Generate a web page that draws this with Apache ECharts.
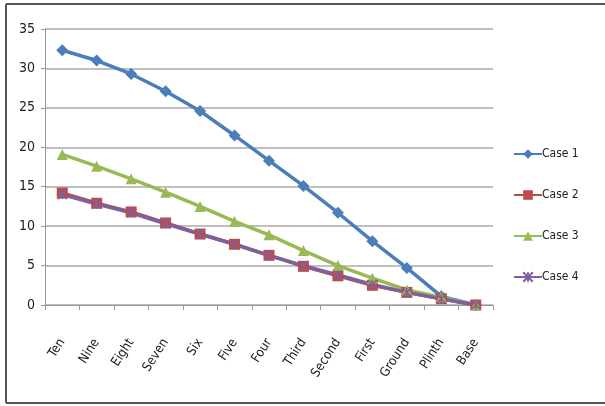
<!DOCTYPE html>
<html>
<head>
<meta charset="utf-8">
<script src="https://cdn.jsdelivr.net/npm/echarts@6/dist/echarts.min.js"></script>
<style>
  html, body { margin: 0; padding: 0; background: #fff; }
  #chart { width: 605px; height: 406px; }
</style>
</head>
<body>
<div id="chart"></div>
<script>
// Floor levels, top to bottom
const floors = ['Ten', 'Nine', 'Eight', 'Seven', 'Six', 'Five', 'Four', 'Third', 'Second', 'First', 'Ground', 'Plinth', 'Base'];

// Values per load case
const case1 = [32.3, 31.0, 29.3, 27.1, 24.6, 21.5, 18.3, 15.1, 11.7, 8.1, 4.7, 1.1, 0];
const case2 = [14.2, 12.9, 11.8, 10.4, 9.0, 7.7, 6.3, 4.9, 3.7, 2.5, 1.6, 0.8, 0];
const case3 = [19.1, 17.6, 16.0, 14.3, 12.5, 10.6, 8.9, 6.9, 5.0, 3.4, 1.9, 1.0, 0];
const case4 = [14.0, 12.8, 11.7, 10.3, 9.0, 7.7, 6.3, 5.0, 3.8, 2.6, 1.6, 0.8, 0];

const yTicks = [0, 5, 10, 15, 20, 25, 30, 35];

const font = '"DejaVu Sans Condensed", "Liberation Sans", Arial, sans-serif';
const crossPath = 'path://M0,0L10,10M10,0L0,10M5,0L5,10';

function mkSeries(name, data, color, symbol, size, extra) {
  return Object.assign({
    name: name,
    type: 'line',
    data: data,
    symbol: symbol,
    symbolSize: size,
    lineStyle: { color: color, width: 3.5 },
    itemStyle: { color: color },
    emphasis: { disabled: true },
    animation: false
  }, extra || {});
}

const chart = echarts.init(document.getElementById('chart'), null, { renderer: 'canvas' });
chart.setOption({
  backgroundColor: '#fff',
  animation: false,
  textStyle: { fontFamily: font },
  grid: { left: 45, top: 29, width: 448, height: 276, containLabel: false },
  graphic: [
    { type: 'line', shape: { x1: 6, y1: 4, x2: 605, y2: 4 }, style: { stroke: '#555', lineWidth: 2 } },
    { type: 'line', shape: { x1: 6, y1: 403, x2: 605, y2: 403 }, style: { stroke: '#555', lineWidth: 2 } },
    { type: 'line', shape: { x1: 6, y1: 4, x2: 6, y2: 403 }, style: { stroke: '#555', lineWidth: 2 } }
  ],
  legend: {
    orient: 'vertical',
    left: 508,
    top: 143,
    itemWidth: 28,
    itemHeight: 12,
    itemGap: 29,
    textStyle: { fontSize: 12, color: '#222', fontFamily: font, padding: [0, 0, 0, -5] },
    data: ['Case 1', 'Case 2', 'Case 3', 'Case 4']
  },
  xAxis: {
    type: 'category',
    data: floors,
    boundaryGap: true,
    axisLine: { lineStyle: { color: '#999', width: 1 } },
    axisTick: { show: true, length: 5, lineStyle: { color: '#999' } },
    axisLabel: { rotate: 57, color: '#222', fontSize: 13, margin: 35, fontFamily: font },
    splitLine: { show: false }
  },
  yAxis: {
    type: 'value',
    min: yTicks[0],
    max: yTicks[yTicks.length - 1],
    interval: 5,
    axisLine: { show: true, lineStyle: { color: '#999', width: 1 } },
    axisTick: { show: true, length: 4, lineStyle: { color: '#999' } },
    axisLabel: { color: '#222', fontSize: 14, margin: 10, fontFamily: font },
    splitLine: { show: true, lineStyle: { color: '#aaa', width: 1.5 } }
  },
  series: [
    mkSeries('Case 1', case1, '#4a7ebb', 'diamond', 12),
    mkSeries('Case 2', case2, '#be4b48', 'rect', 11),
    mkSeries('Case 3', case3, '#98b954', 'triangle', 11),
    mkSeries('Case 4', case4, '#7d60a0', crossPath, 9, {
      itemStyle: { color: '#7d60a0', borderColor: '#7d60a0', borderWidth: 1.5 }
    })
  ]
});
</script>
</body>
</html>
